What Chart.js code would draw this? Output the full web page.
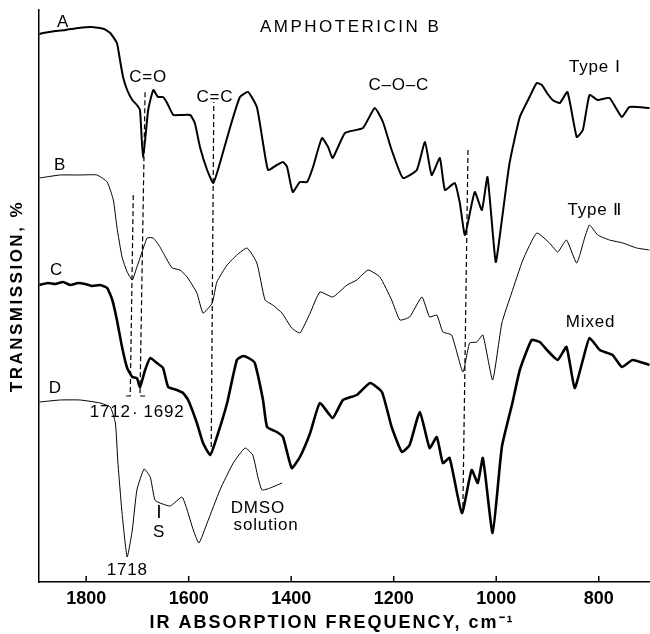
<!DOCTYPE html>
<html><head><meta charset="utf-8">
<script src="https://cdn.jsdelivr.net/npm/chart.js@4"></script>
<style>html,body{margin:0;padding:0;background:#fff}canvas{display:block}</style>
</head><body>
<canvas id="c" width="650" height="634"></canvas>
<script>
// ---- data (wavenumber, cm-1 ; transmission, arbitrary offset units) ----
const tickValues = [1800, 1600, 1400, 1200, 1000, 800];

const waveA = [1891,1884,1860,1840,1815,1790,1765,1753,1740,1734,1728,1720,1710,1701,1695,1689,1679,1669,1660,1650,1642,1630,1617,1597,1588,1578,1564,1552,1539,1519,1500,1484,1467,1455,1445,1428,1416,1408,1397,1383,1369,1358,1340,1328,1319,1295,1260,1237,1221,1204,1182,1155,1139,1126,1110,1100,1081,1071,1061,1042,1028,1017,1001,989,974,954,935,921,911,901,890,876,861,843,831,818,802,779,755,740,701];
const transA = [109.6,109.8,110.2,110.4,110.8,111,110.6,109.8,107.8,104.4,101,98.4,96.4,95.4,94.4,84.8,94.4,98.4,97,97,95.8,93.4,93.4,93.4,91.8,87,82.4,79.8,83.8,91,97,98,95,87.8,82.4,83.4,84,83,78,80,80,82.8,88.8,87,84.8,89.8,90.8,94.8,92,86.4,80.8,82.4,88,81.4,84.8,78.4,79.8,75.8,69.4,78,74.4,81,64,72.4,83.8,93,97,99.8,99.4,97.8,96.4,95.8,98,89,90.4,97.4,96.4,96.8,93,95,94.8];

const waveB = [1891,1851,1812,1779,1759,1747,1740,1730,1720,1710,1701,1691,1681,1669,1656,1642,1632,1617,1603,1584,1572,1554,1545,1525,1506,1486,1467,1451,1436,1418,1399,1383,1363,1344,1319,1291,1272,1250,1227,1204,1188,1169,1145,1130,1116,1104,1087,1065,1052,1038,1026,1007,989,970,948,921,896,880,863,843,827,818,802,779,753,726,701];
const transB = [80.8,81.4,81.4,81.4,80,76.4,71,65,62,60.4,63,66,68.8,68.8,67,64.4,62.8,62.4,61,57.8,53.8,55.8,60,63.4,65.4,66.8,63.8,56.4,55.4,53.8,50.8,49.8,53.8,58,57,59.4,60.4,62.4,61,56.4,52.4,53,57,53,53.4,50,49.4,42,47.8,48,49.4,40.4,51.8,57.8,64.4,69.8,67.8,66,68.4,63.8,69,71.4,69.4,68.4,67.8,66.8,66.4];

const waveC = [1891,1875,1860,1845,1831,1816,1802,1788,1773,1759,1749,1740,1730,1720,1710,1701,1695,1685,1675,1662,1650,1640,1623,1611,1601,1584,1572,1558,1545,1525,1506,1494,1480,1471,1455,1447,1428,1416,1399,1383,1363,1344,1319,1299,1272,1246,1223,1204,1184,1169,1149,1130,1116,1104,1091,1067,1048,1036,1026,1007,989,968,954,931,915,901,880,863,847,831,818,798,773,755,734,701];
const transC = [59.4,59.8,59.6,60,59.4,59.8,59.6,59.2,59.4,58.8,56.4,52.4,47,42.8,41,40.8,39,42.4,44.8,43.8,42.8,39,38.4,37.8,36.4,31.8,27.8,25.4,29,35.8,44.4,45.2,44.6,43.8,36.4,31,30,29,22.8,25,29.8,35.8,32.8,36.4,37.4,39.8,38,31,26,27.4,34,26.8,29,23.8,24.8,13.8,22.4,19.8,24.8,9.8,27,36,42.4,48.4,48,46.4,44.4,47,38.8,44.4,48.8,46.4,45.4,43,44.4,43.4];

const waveD = [1891,1851,1812,1773,1753,1743,1738,1730,1720,1710,1701,1687,1675,1666,1656,1636,1613,1603,1591,1580,1564,1539,1513,1490,1475,1465,1457,1441,1418];
const transD = [36,36.4,36.4,35.8,35,31.8,23.8,13.8,5,10.4,18.4,22.6,21,16.4,15.8,15.2,17,14.4,10.4,7.8,11.8,18.4,23.8,26.8,25.4,21,18.4,18.8,19.8];

// dashed band markers
const mark1712Wn = [1722,1714,1708], mark1712T = [37.2,37.2,78];
const mark1692Wn = [1685,1695,1685], mark1692T = [37.2,37.2,98.4];
const markCCWn = [1556,1551], markCCT = [27,96];
const markCOCWn = [1065,1055], markCOCT = [15,87];
const markSWn = [1658,1658], markST = [15.4,12.8];

const FONT = '"Liberation Sans", Arial, Helvetica, sans-serif';
const labels = [
  {text:'A', wn:1845, t:112},
  {text:'B', wn:1851, t:83.4},
  {text:'C', wn:1858, t:62.4},
  {text:'D', wn:1860, t:38.8},
  {text:'AMPHOTERICIN B', wn:1284, t:111, spacing:2.5},
  {text:'C=O', wn:1679, t:101},
  {text:'C=C', wn:1549, t:97},
  {text:'C–O–C', wn:1190, t:99.4},
  {text:'Type Ⅰ', wn:808, t:103},
  {text:'Type Ⅱ', wn:808, t:74.4},
  {text:'Mixed', wn:816, t:52},
  {text:'DMSO', wn:1465, t:14.8},
  {text:'solution', wn:1449, t:11.4},
  {text:'S', wn:1658, t:10},
  {text:'1718', wn:1720, t:2.4},
  {text:'1712', wn:1753, t:34},
  {text:'.', wn:1704, t:34.6},
  {text:'1692', wn:1648, t:34}
];

const pts = (w, t) => w.map((x, i) => ({x, y: t[i]}));
const trace = (w, t, width) => ({data: pts(w, t), borderColor:'#000', borderWidth:width, pointRadius:0, tension:0.15, fill:false});
const dashed = (w, t) => ({data: pts(w, t), borderColor:'#000', borderWidth:1.2, borderDash:[5,3], pointRadius:0, fill:false});

const annot = {
  id: 'annot',
  beforeDraw(chart) {
    const c = chart.ctx; c.save(); c.fillStyle = '#fff'; c.fillRect(0, 0, chart.width, chart.height); c.restore();
  },
  afterDraw(chart) {
    const {ctx, scales:{x, y}, chartArea} = chart;
    ctx.save();
    ctx.fillStyle = '#000'; ctx.textAlign = 'center'; ctx.textBaseline = 'middle';
    labels.forEach(l => {
      ctx.font = `${l.size || 17}px ${FONT}`;
      ctx.letterSpacing = (l.spacing !== undefined ? l.spacing : 0.8) + 'px';
      ctx.fillText(l.text, x.getPixelForValue(l.wn), y.getPixelForValue(l.t));
    });
    ctx.strokeStyle = '#000'; ctx.lineWidth = 1.5;
    tickValues.forEach(v => {
      const px = x.getPixelForValue(v);
      ctx.beginPath(); ctx.moveTo(px, chartArea.bottom); ctx.lineTo(px, chartArea.bottom - 6); ctx.stroke();
    });
    ctx.font = `bold 18px ${FONT}`; ctx.letterSpacing = '2px';
    ctx.fillText('IR ABSORPTION FREQUENCY, cm⁻¹', 332, 623);
    ctx.translate(17, (chartArea.top + chartArea.bottom) / 2);
    ctx.rotate(-Math.PI / 2);
    ctx.font = `bold 17px ${FONT}`; ctx.letterSpacing = '2.5px';
    ctx.fillText('TRANSMISSION, %', 0, 0);
    ctx.restore();
  }
};

new Chart(document.getElementById('c'), {
  type: 'line',
  data: { datasets: [
    trace(waveA, transA, 2),
    trace(waveB, transB, 1),
    trace(waveC, transC, 2.6),
    trace(waveD, transD, 1),
    dashed(mark1712Wn, mark1712T),
    dashed(mark1692Wn, mark1692T),
    dashed(markCCWn, markCCT),
    dashed(markCOCWn, markCOCT),
    {data: pts(markSWn, markST), borderColor:'#000', borderWidth:1, pointRadius:0}
  ]},
  options: {
    responsive: false, animation: false, devicePixelRatio: 1,
    layout: { padding: {top: 10, left: 0, right: 0, bottom: 0} },
    plugins: { legend: {display: false}, tooltip: {enabled: false} },
    scales: {
      x: {
        type: 'linear', reverse: true, min: 700, max: 1892,
        afterBuildTicks: s => { s.ticks = tickValues.map(v => ({value: v})); },
        afterFit: s => { s.height = 52; },
        grid: {display: true, drawOnChartArea: false, drawTicks: false},
        border: {display: true, color: '#000', width: 1.5},
        ticks: {color: '#000', padding: 6, maxRotation: 0, callback: v => String(v), font: {family: FONT, size: 18, weight: 'bold'}}
      },
      y: {
        type: 'linear', min: 0, max: 114.4,
        afterFit: s => { s.width = 39; },
        grid: {display: true, drawOnChartArea: false, drawTicks: false},
        border: {display: true, color: '#000', width: 1.5},
        ticks: {display: false}
      }
    }
  },
  plugins: [annot]
});
</script>
</body></html>
